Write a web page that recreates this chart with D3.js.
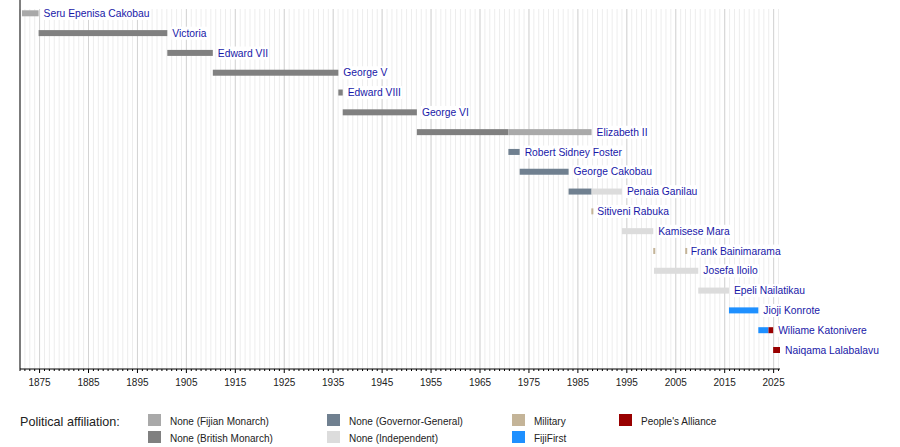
<!DOCTYPE html>
<html>
<head>
<meta charset="utf-8">
<script src="https://cdn.jsdelivr.net/npm/d3@7"></script>
<style>
  body { margin: 0; background: #fff; }
  text { font-family: "Liberation Sans", Arial, sans-serif; }
</style>
</head>
<body>
<svg></svg>
<script>
// rows, top to bottom
const rulers = [
  "Seru Epenisa Cakobau", "Victoria", "Edward VII", "George V", "Edward VIII",
  "George VI", "Elizabeth II", "Robert Sidney Foster", "George Cakobau",
  "Penaia Ganilau", "Sitiveni Rabuka", "Kamisese Mara", "Frank Bainimarama",
  "Josefa Iloilo", "Epeli Nailatikau", "Jioji Konrote", "Wiliame Katonivere",
  "Naiqama Lalabalavu"
];

// [ruler, from, till, affiliation]
const terms = [
  ["Seru Epenisa Cakobau", 1871.4, 1874.8, "fm"],
  ["Victoria", 1874.8, 1901.1, "bm"],
  ["Edward VII", 1901.1, 1910.4, "bm"],
  ["George V", 1910.4, 1936.05, "bm"],
  ["Edward VIII", 1936.05, 1936.95, "bm"],
  ["George VI", 1936.95, 1952.1, "bm"],
  ["Elizabeth II", 1952.1, 1970.8, "bm"],
  ["Elizabeth II", 1970.8, 1987.8, "fm"],
  ["Robert Sidney Foster", 1970.8, 1973.1, "gg"],
  ["George Cakobau", 1973.1, 1983.1, "gg"],
  ["Penaia Ganilau", 1983.1, 1987.8, "gg"],
  ["Penaia Ganilau", 1987.8, 1994.0, "ind"],
  ["Sitiveni Rabuka", 1987.75, 1987.95, "mil"],
  ["Kamisese Mara", 1994.0, 2000.4, "ind"],
  ["Frank Bainimarama", 2000.4, 2000.55, "mil"],
  ["Frank Bainimarama", 2006.93, 2007.05, "mil"],
  ["Josefa Iloilo", 2000.55, 2009.6, "ind"],
  ["Epeli Nailatikau", 2009.6, 2015.87, "ind"],
  ["Jioji Konrote", 2015.87, 2021.87, "ff"],
  ["Wiliame Katonivere", 2021.87, 2023.95, "ff"],
  ["Wiliame Katonivere", 2023.95, 2024.9, "pa"],
  ["Naiqama Lalabalavu", 2024.9, 2026.3, "pa"]
];

const parties = ["fm", "bm", "gg", "ind", "mil", "ff", "pa"];
const partyNames = [
  "None (Fijian Monarch)", "None (British Monarch)", "None (Governor-General)",
  "None (Independent)", "Military", "FijiFirst", "People's Alliance"
];
const partyColors = ["#a9a9a9", "#808080", "#708090", "#dcdcdc", "#c4b498", "#1e90ff", "#990000"];

const yearStart = 1871, yearEnd = 2026.3;
const firstMajor = 1875, lastMajor = 2025;

const W = 900, H = 447;
const svg = d3.select("svg").attr("width", W).attr("height", H);

const x = d3.scaleLinear().domain([yearStart, yearEnd]).range([20, 780]);
const y = d3.scalePoint().domain(rulers).range([13.3, 350]);
const color = d3.scaleOrdinal().domain(parties).range(partyColors);
const axisY = 369;

// grid
const minorYears = d3.range(Math.ceil(yearStart), Math.floor(yearEnd) + 1);
const majorYears = d3.range(firstMajor, lastMajor + 1, 10);
const grid = svg.append("g");
grid.selectAll(".minor").data(minorYears).enter().append("line")
  .attr("x1", d => x(d)).attr("x2", d => x(d))
  .attr("y1", 9).attr("y2", axisY)
  .attr("stroke", "#ededed").attr("stroke-width", 1);
grid.selectAll(".major").data(majorYears).enter().append("line")
  .attr("x1", d => x(d)).attr("x2", d => x(d))
  .attr("y1", 9).attr("y2", axisY)
  .attr("stroke", "#d4d4d4").attr("stroke-width", 1);

// bars
svg.append("g").selectAll("rect").data(terms).enter().append("rect")
  .attr("x", d => x(d[1]))
  .attr("width", d => Math.max(2, x(d[2]) - x(d[1])))
  .attr("y", d => y(d[0]) - 3)
  .attr("height", 6)
  .attr("fill", d => color(d[3]));

// labels with white backing
const lastEnd = rulers.map(r => d3.max(terms.filter(t => t[0] === r), t => t[2]));
const labels = svg.append("g").selectAll("g").data(rulers).enter().append("g");
labels.append("rect").attr("class", "bg").attr("fill", "#fff");
labels.append("text")
  .attr("x", (d, i) => x(lastEnd[i]) + 5)
  .attr("y", d => y(d) + 3.6)
  .attr("font-size", "10.3px")
  .attr("fill", "#1818a8")
  .text(d => d);
labels.each(function() {
  const g = d3.select(this);
  const b = g.select("text").node().getBBox();
  g.select("rect.bg")
    .attr("x", b.x - 1).attr("y", b.y - 1)
    .attr("width", b.width + 2).attr("height", b.height + 2);
});

// axis
svg.append("line").attr("x1", 20).attr("x2", 20).attr("y1", 0).attr("y2", axisY)
  .attr("stroke", "#000");
svg.append("line").attr("x1", 20).attr("x2", x(yearEnd)).attr("y1", axisY).attr("y2", axisY)
  .attr("stroke", "#000");
svg.append("g").selectAll("line").data(minorYears).enter().append("line")
  .attr("x1", d => x(d)).attr("x2", d => x(d))
  .attr("y1", axisY).attr("y2", d => axisY + ((d - firstMajor) % 10 === 0 ? 4 : 2))
  .attr("stroke", "#000");
svg.append("g").selectAll("text").data(majorYears).enter().append("text")
  .attr("x", d => x(d)).attr("y", 386)
  .attr("text-anchor", "middle")
  .attr("font-size", "10px").attr("fill", "#222")
  .text(d => d);

// legend
svg.append("text").attr("x", 20).attr("y", 425.5)
  .attr("font-size", "12.6px").attr("fill", "#222")
  .text("Political affiliation:");
const legendCols = [148, 327, 512, 619];
const legend = svg.append("g").selectAll("g").data(parties).enter().append("g")
  .attr("transform", (d, i) => `translate(${legendCols[Math.floor(i / 2)]}, ${i % 2 === 0 ? 414 : 431})`);
legend.append("rect").attr("width", 13).attr("height", 12)
  .attr("fill", d => color(d));
legend.append("text").attr("x", 22).attr("y", 11)
  .attr("font-size", "10px").attr("fill", "#222")
  .text((d, i) => partyNames[i]);
</script>
</body>
</html>
